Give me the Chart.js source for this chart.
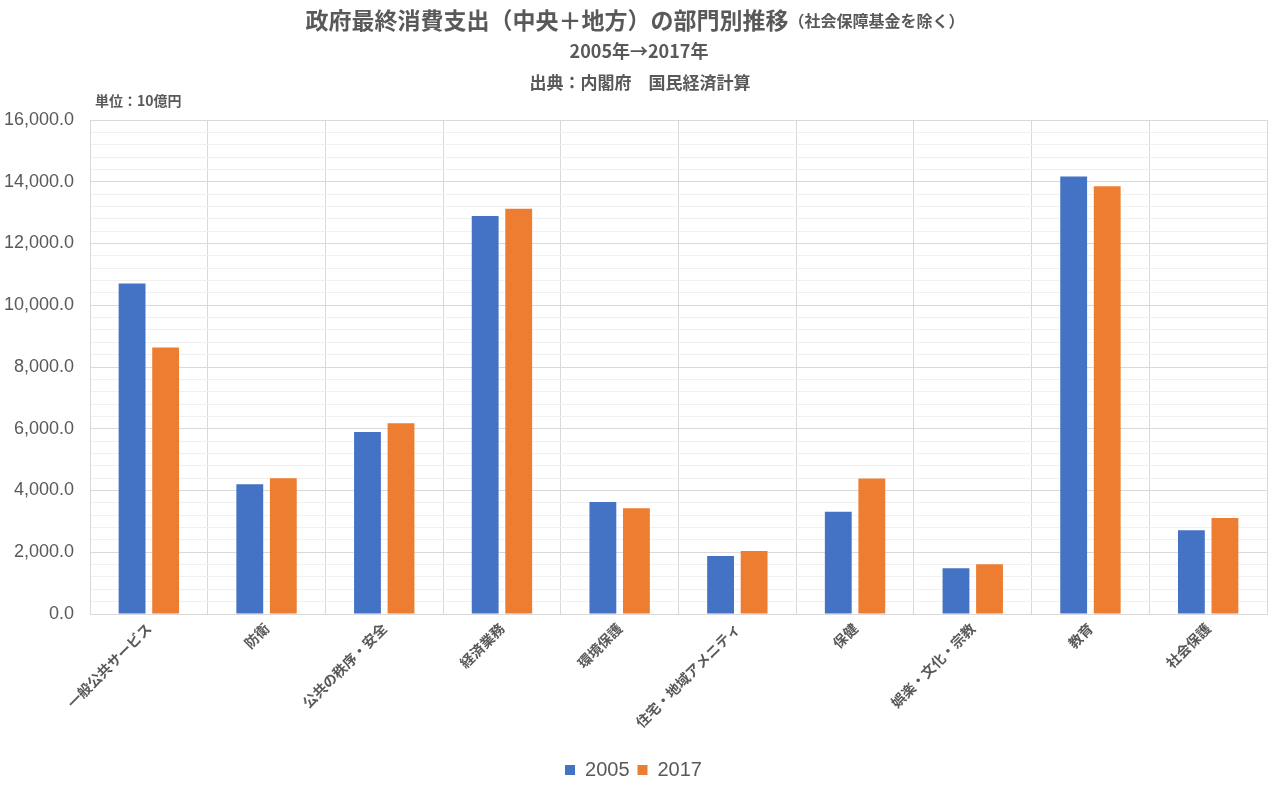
<!DOCTYPE html>
<html>
<head>
<meta charset="utf-8">
<script src="https://cdn.jsdelivr.net/npm/chart.js@4"></script>
<style>
  html, body { margin: 0; padding: 0; background: #fff; }
  #wrap { width: 1280px; height: 796px; }
</style>
</head>
<body>
<div id="wrap"><canvas id="govChart"></canvas></div>
<script>
const categories = ['一般公共サービス', '防衛', '公共の秩序・安全', '経済業務', '環境保護',
  '住宅・地域アメニティ', '保健', '娯楽・文化・宗教', '教育', '社会保護'];
const values2005 = [10705, 4200, 5896, 12887, 3630, 1880, 3315, 1480, 14170, 2713];
const values2017 = [8635, 4395, 6175, 13123, 3425, 2040, 4385, 1610, 13858, 3112];
const seriesLabels = ['2005', '2017'];

const jpFont = '"Noto Sans CJK JP", "Noto Sans", sans-serif';
const grey = '#595959';

// titles drawn by hand, the main title mixes two font sizes
const headerPlugin = {
  id: 'header',
  beforeDraw(chart) {
    const c = chart.ctx;
    c.save();
    c.fillStyle = '#fff';
    c.fillRect(0, 0, chart.width, chart.height);
    c.fillStyle = grey;
    c.textBaseline = 'middle';

    const main = '政府最終消費支出（中央＋地方）の部門別推移';
    const note = '（社会保障基金を除く）';
    c.font = 'bold 23px ' + jpFont;
    const w1 = c.measureText(main).width;
    c.font = 'bold 16px ' + jpFont;
    const w2 = c.measureText(note).width;
    let x = 635 - (w1 + w2) / 2;
    c.textAlign = 'left';
    c.font = 'bold 23px ' + jpFont;
    c.fillText(main, x, 20);
    c.font = 'bold 16px ' + jpFont;
    c.fillText(note, x + w1, 21);

    c.textAlign = 'center';
    c.font = 'bold 18px ' + jpFont;
    c.fillText('2005年→2017年', 639, 51);
    c.font = 'bold 17px ' + jpFont;
    c.fillText('出典：内閣府　国民経済計算', 640, 83);

    c.textAlign = 'left';
    c.font = 'bold 14px ' + jpFont;
    c.fillText('単位：10億円', 95, 101);
    c.restore();
  }
};

const ctx = document.getElementById('govChart').getContext('2d');
const govChart = new Chart(ctx, {
  type: 'bar',
  data: {
    labels: categories,
    datasets: [
      {
        label: seriesLabels[0],
        data: values2005,
        backgroundColor: '#4472C4',
        categoryPercentage: 0.57,
        barPercentage: 0.8,
      },
      {
        label: seriesLabels[1],
        data: values2017,
        backgroundColor: '#ED7D31',
        categoryPercentage: 0.57,
        barPercentage: 0.8,
      },
    ],
  },
  options: {
    responsive: true,
    maintainAspectRatio: false,
    animation: false,
    layout: {
      padding: { top: 120, right: 13, bottom: 6, left: 0 },
    },
    plugins: {
      title: { display: false },
      tooltip: { enabled: false },
      legend: {
        position: 'bottom',
        labels: {
          color: grey,
          boxWidth: 10,
          boxHeight: 10,
          padding: 8,
          font: { family: '"Liberation Sans", sans-serif', size: 20 },
        },
      },
    },
    scales: {
      x: {
        afterFit: (scale) => { scale.height = 138; },
        grid: { color: '#d9d9d9', drawTicks: false, offset: true },
        border: { color: '#d9d9d9' },
        ticks: {
          color: grey,
          maxRotation: 45,
          minRotation: 45,
          padding: 6,
          font: { family: jpFont, size: 14, weight: 'bold' },
        },
      },
      y: {
        min: 0,
        max: 16000,
        afterFit: (scale) => { scale.width = 90; },
        grid: {
          drawTicks: false,
          color: (c) => (c.tick && c.tick.value % 2000 === 0 ? '#d9d9d9' : '#f0f0f0'),
        },
        border: { color: '#d9d9d9' },
        ticks: {
          stepSize: 400,
          autoSkip: false,
          padding: 16,
          color: grey,
          font: { family: '"Liberation Sans", sans-serif', size: 18 },
          callback: (v) => (v % 2000 === 0
            ? v.toLocaleString('en-US', { minimumFractionDigits: 1, maximumFractionDigits: 1 })
            : ''),
        },
      },
    },
  },
  plugins: [headerPlugin],
});
</script>
</body>
</html>
